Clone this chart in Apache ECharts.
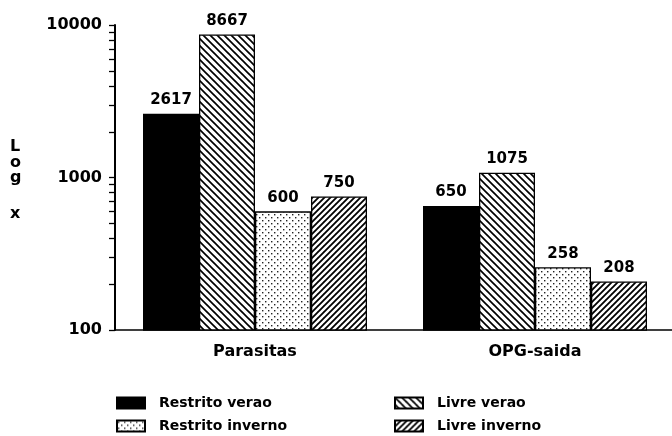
<!DOCTYPE html>
<html>
<head>
<meta charset="utf-8">
<script src="https://cdn.jsdelivr.net/npm/echarts@6/dist/echarts.min.js"></script>
<style>
html,body{margin:0;padding:0;background:#fff;}
#c{width:672px;height:436px;}
</style>
</head>
<body>
<div id="c"></div>
<script>
var categories = ['Parasitas', 'OPG-saida'];
var seriesNames = ['Restrito verao', 'Livre verao', 'Restrito inverno', 'Livre inverno'];
var restritoVerao = [2617, 650];
var livreVerao = [8667, 1075];
var restritoInverno = [600, 258];
var livreInverno = [750, 208];
var yTickLabels = [100, 1000, 10000];
var minorTickValues = [200, 300, 400, 500, 600, 700, 800, 900, 2000, 3000, 4000, 5000, 6000, 7000, 8000, 9000];
var yAxisTitle = ['L', 'o', 'g', 'x'];

var FONT = '"DejaVu Sans", sans-serif';

function hatch(size, back, lw) {
  var c = document.createElement('canvas');
  c.width = size; c.height = size;
  var g = c.getContext('2d');
  g.fillStyle = '#fff'; g.fillRect(0, 0, size, size);
  g.strokeStyle = '#000'; g.lineWidth = lw; g.lineCap = 'square';
  for (var k = -1; k <= 1; k++) {
    g.beginPath();
    if (back) { g.moveTo(k * size, 0); g.lineTo(k * size + size, size); }
    else { g.moveTo(k * size, size); g.lineTo(k * size + size, 0); }
    g.stroke();
  }
  return { image: c, repeat: 'repeat' };
}
function dots() {
  var c = document.createElement('canvas');
  c.width = 6; c.height = 6;
  var g = c.getContext('2d');
  g.fillStyle = '#fff'; g.fillRect(0, 0, 6, 6);
  g.fillStyle = '#222';
  g.fillRect(1, 1, 1.4, 1.4);
  g.fillRect(4, 4, 1.4, 1.4);
  return { image: c, repeat: 'repeat' };
}

var fills = ['#000', hatch(7, true, 1.7), dots(), hatch(6, false, 1.8)];
var values = [restritoVerao, livreVerao, restritoInverno, livreInverno];

var chart = echarts.init(document.getElementById('c'), null, { renderer: 'canvas' });

var series = seriesNames.map(function (n, i) {
  return {
    name: n,
    type: 'bar',
    data: values[i],
    barWidth: 56,
    barGap: '0%',
    itemStyle: { color: fills[i], borderColor: '#000', borderWidth: 1.3 },
    label: {
      show: true, position: 'top', distance: 6,
      color: '#000', fontFamily: FONT, fontWeight: 'bold', fontSize: 15,
      formatter: function (p) { return String(p.value); }
    }
  };
});

var legendBase = {
  orient: 'vertical',
  itemWidth: 28, itemHeight: 11, itemGap: 9,
  icon: 'rect',
  selectedMode: false,
  padding: 0,
  textStyle: { color: '#000', fontFamily: FONT, fontWeight: 'bold', fontSize: 14, lineHeight: 14, padding: [0, 0, 0, 9] }
};

chart.setOption({
  animation: false,
  backgroundColor: '#fff',
  grid: { left: 115, top: 25, width: 560, height: 305, outerBoundsMode: 'none', containLabel: false },
  legend: [
    Object.assign({}, legendBase, { left: 116, top: 396, data: [seriesNames[0], seriesNames[2]] }),
    Object.assign({}, legendBase, { left: 394, top: 396, data: [seriesNames[1], seriesNames[3]] })
  ],
  xAxis: {
    type: 'category',
    data: categories,
    axisLine: { lineStyle: { color: '#000', width: 1.5 } },
    axisTick: { alignWithLabel: true, length: 6, lineStyle: { color: '#000', width: 1.5 } },
    axisLabel: { color: '#000', fontFamily: FONT, fontWeight: 'bold', fontSize: 16, margin: 14 }
  },
  yAxis: {
    type: 'log',
    logBase: 10,
    min: yTickLabels[0],
    max: yTickLabels[yTickLabels.length - 1],
    splitLine: { show: false },
    axisLine: { show: true, lineStyle: { color: '#000', width: 2 } },
    axisTick: { show: true, length: 6, lineStyle: { color: '#000', width: 1.3 } },
    axisLabel: {
      color: '#000', fontFamily: FONT, fontWeight: 'bold', fontSize: 16, margin: 13,
      formatter: function (v) { return String(Math.round(v)); }
    }
  },
  series: series
});

// minor ticks and vertical axis title
var gfx = [];
minorTickValues.forEach(function (v) {
  var y = chart.convertToPixel({ yAxisIndex: 0 }, v);
  var x0 = 115;
  gfx.push({
    type: 'line',
    shape: { x1: x0 - 6, y1: Math.round(y) + 0.5, x2: x0, y2: Math.round(y) + 0.5 },
    style: { stroke: '#000', lineWidth: 1.3 },
    silent: true
  });
});
var titleY = [148, 164, 179, 215];
yAxisTitle.forEach(function (ch, i) {
  gfx.push({
    type: 'text', left: 10, top: titleY[i] - 9,
    style: { text: ch, fill: '#000', font: 'bold 16px ' + FONT }
  });
});
chart.setOption({ graphic: gfx });
</script>
</body>
</html>
